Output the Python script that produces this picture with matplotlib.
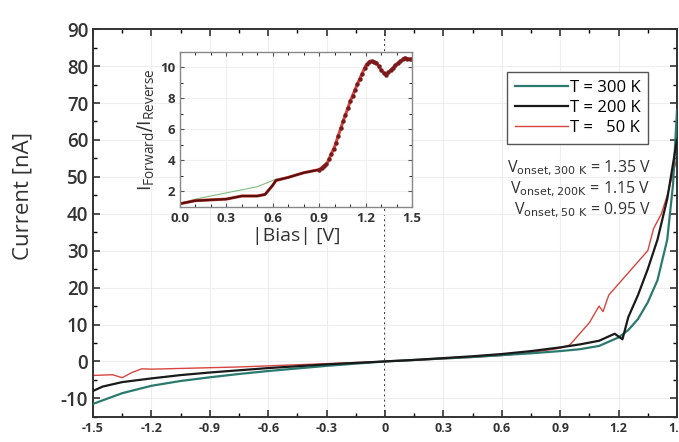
import numpy as np
import matplotlib.pyplot as plt

plt.rcParams['font.family'] = ['Open Sans', 'DejaVu Sans']
plt.rcParams['axes.unicode_minus'] = False

# main I-V curves
bias_300 = [-1.5, -1.35, -1.2, -1.05, -0.9, -0.75, -0.6, -0.45, -0.3, -0.15, 0.0,
            0.15, 0.3, 0.45, 0.6, 0.75, 0.9, 1.0, 1.1, 1.2, 1.25, 1.3, 1.35, 1.4, 1.45, 1.48, 1.5]
cur_300 = [-11.5, -8.6, -6.6, -5.3, -4.3, -3.4, -2.6, -1.9, -1.2, -0.6, 0.0,
           0.4, 0.8, 1.2, 1.7, 2.2, 2.8, 3.3, 4.2, 6.5, 8.5, 11.5, 16, 22, 33, 48, 68]

bias_200 = [-1.5, -1.45, -1.35, -1.2, -1.05, -0.9, -0.75, -0.6, -0.45, -0.3, -0.15, 0.0,
            0.15, 0.3, 0.45, 0.6, 0.75, 0.9, 1.0, 1.1, 1.18, 1.22, 1.25, 1.3, 1.35, 1.4, 1.45, 1.5]
cur_200 = [-8.0, -6.8, -5.6, -4.6, -3.7, -3.0, -2.4, -1.8, -1.3, -0.8, -0.4, 0.0,
           0.4, 0.9, 1.4, 2.0, 2.8, 3.8, 4.6, 5.6, 7.5, 6.0, 12, 18, 25, 33, 44, 60]

bias_50 = [-1.5, -1.4, -1.35, -1.3, -1.25, -1.2, -1.05, -0.9, -0.75, -0.6, -0.45, -0.3, -0.15, 0.0,
           0.15, 0.3, 0.45, 0.6, 0.75, 0.9, 0.95, 1.0, 1.05, 1.1, 1.12, 1.15, 1.2, 1.3, 1.35, 1.38, 1.42, 1.45, 1.5]
cur_50 = [-3.8, -3.6, -4.4, -3.0, -2.0, -2.1, -1.9, -1.7, -1.5, -1.2, -0.9, -0.6, -0.3, 0.0,
          0.3, 0.7, 1.1, 1.6, 2.4, 3.6, 4.5, 7.5, 10.5, 15, 13.5, 18, 21, 27, 30, 36, 40, 45, 55]

# inset: forward/reverse ratio
ratio_bias = [0.0, 0.05, 0.1, 0.2, 0.3, 0.4, 0.5, 0.55, 0.6, 0.62, 0.7, 0.8, 0.9, 0.95,
              1.0, 1.05, 1.1, 1.15, 1.2, 1.23, 1.27, 1.3, 1.33, 1.37, 1.4, 1.45, 1.5]
ratio = [1.2, 1.3, 1.4, 1.45, 1.5, 1.7, 1.7, 1.8, 2.4, 2.7, 2.9, 3.2, 3.4, 3.8,
         4.9, 6.4, 7.8, 9.0, 10.1, 10.4, 10.3, 9.8, 9.5, 9.9, 10.2, 10.6, 10.5]
ratio_alt = [1.2, 1.35, 1.5, 1.7, 1.9, 2.1, 2.3, 2.5, 2.7, 2.8, 2.9, 3.2, 3.4, 3.8,
             4.9, 6.4, 7.8, 9.0, 10.1, 10.4, 10.3, 9.8, 9.5, 9.9, 10.2, 10.6, 10.5]

teal = '#2b7a70'
red = '#d64541'

fig = plt.figure(figsize=(6.79, 4.42), dpi=100)
ax = fig.add_axes([0.137, 0.057, 0.86, 0.877])

ax.axvline(0, color='#333333', ls=':', lw=1.4, zorder=1)
ax.plot(bias_300, cur_300, color=teal, lw=1.6, label='T = 300 K', zorder=3)
ax.plot(bias_200, cur_200, color='#1a1a1a', lw=1.6, label='T = 200 K', zorder=4)
ax.plot(bias_50, cur_50, color=red, lw=1.0, label='T =   50 K', zorder=2)

ax.set_xlim(-1.5, 1.5)
ax.set_ylim(-15, 90)
ax.set_xticks(np.arange(-1.5, 1.51, 0.3))
ax.set_xticklabels(['-1.5', '-1.2', '-0.9', '-0.6', '-0.3', '0', '0.3', '0.6', '0.9', '1.2', '1.5'])
ax.set_yticks(np.arange(-10, 91, 10))
ax.set_xticks(np.arange(-1.5, 1.51, 0.15), minor=True)
ax.set_yticks(np.arange(-15, 91, 5), minor=True)
ax.tick_params(direction='in', top=True, right=True, length=5, width=1.2, colors='#333333')
ax.tick_params(which='minor', direction='in', top=True, right=True, length=3, width=1)
ax.tick_params(axis='x', labelsize=9)
ax.tick_params(axis='y', labelsize=13.5)
for lab in ax.get_xticklabels():
    lab.set_fontweight('bold')
for lab in ax.get_yticklabels():
    lab.set_fontweight('semibold')
ax.grid(True, color='#eeeeee', lw=0.8)
for s in ax.spines.values():
    s.set_linewidth(1.4)
    s.set_color('#333333')
ax.set_ylabel('Current [nA]', fontsize=16, color='#333333')
ax.yaxis.set_label_coords(-0.102, 0.57)

leg = ax.legend(loc='upper right', bbox_to_anchor=(0.965, 0.91), fontsize=12,
                frameon=True, fancybox=False, edgecolor='#555555', handlelength=3.2,
                handletextpad=0.1, borderpad=0.45, labelspacing=0.25, framealpha=1)
leg.get_frame().set_linewidth(1.0)

onset = (r'V$_{\mathrm{onset, 300\ K}}$ = 1.35 V' + '\n' +
         r'V$_{\mathrm{onset, 200K}}$ = 1.15 V' + '\n' +
         r'V$_{\mathrm{onset, 50\ K}}$ = 0.95 V')
ax.text(0.955, 0.665, onset, transform=ax.transAxes, ha='right', va='top',
        fontsize=11.5, color='#333333', linespacing=1.1)

# inset
ins = fig.add_axes([0.265, 0.532, 0.342, 0.351])
ins.plot(ratio_bias, ratio_alt, color='#7fbf7f', lw=0.8)
ins.plot(ratio_bias, ratio, color=red, lw=2.2)
ins.plot(ratio_bias[:13], ratio[:13], color='#5a0f0f', lw=1.6)
dense_b = np.linspace(0.9, 1.5, 40)
ins.plot(dense_b, np.interp(dense_b, ratio_bias, ratio), ls='none', marker='o',
         ms=2.2, color='#7a1a1a')
ins.set_xlim(0, 1.5)
ins.set_ylim(1, 11)
ins.set_xticks(np.arange(0, 1.51, 0.3))
ins.set_xticklabels(['0.0', '0.3', '0.6', '0.9', '1.2', '1.5'])
ins.set_yticks([2, 4, 6, 8, 10])
ins.set_xticks(np.arange(0, 1.51, 0.1), minor=True)
ins.set_yticks(np.arange(1, 11.1, 1), minor=True)
ins.tick_params(direction='in', top=True, right=True, length=3, colors='#555555', labelsize=9.5)
ins.tick_params(which='minor', direction='in', top=True, right=True, length=2)
for lab in ins.get_xticklabels() + ins.get_yticklabels():
    lab.set_fontweight('bold')
    lab.set_color('#333333')
ins.grid(True, color='#f0f0f0', lw=0.8)
for s in ins.spines.values():
    s.set_color('#888888')
    s.set_linewidth(1.0)
ins.set_xlabel('|Bias| [V]', fontsize=14, color='#333333', labelpad=2)
ins.set_ylabel(r'$\mathregular{I}_{\mathregular{Forward}}/\mathregular{I}_{\mathregular{Reverse}}$',
               fontsize=14, color='#333333', labelpad=2)

fig.savefig('out.png', dpi=100)
